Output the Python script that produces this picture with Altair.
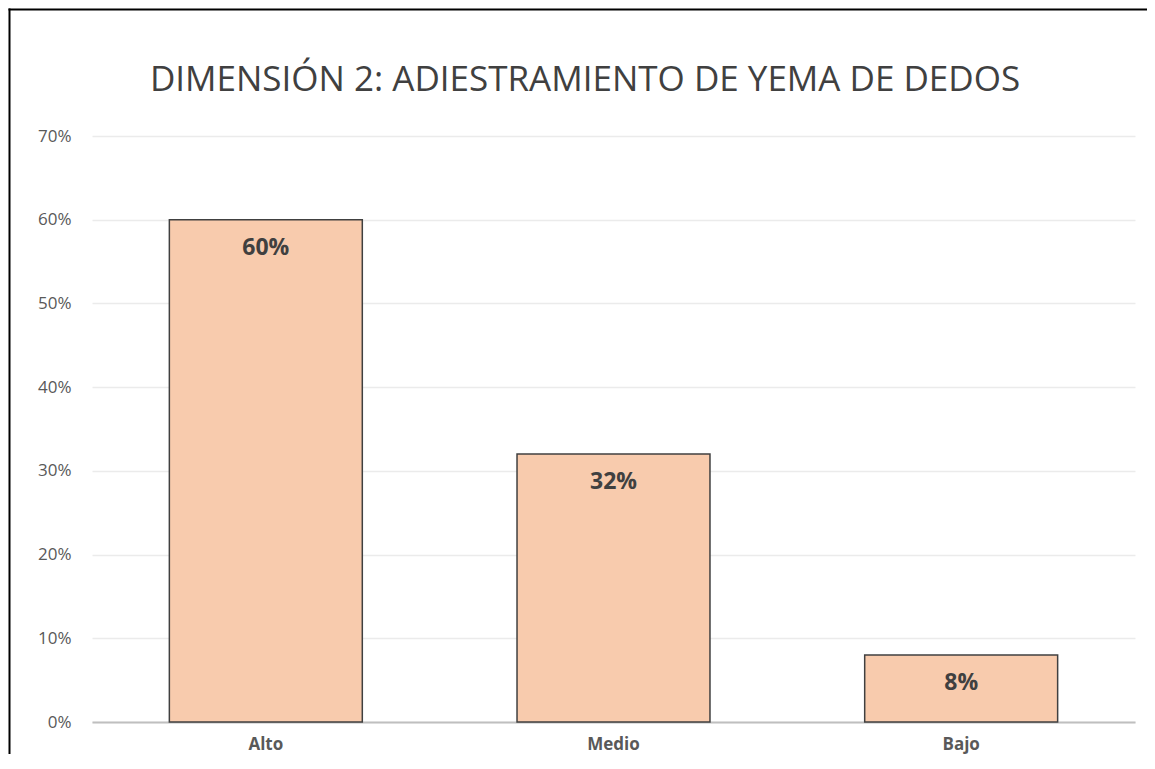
import altair as alt
import pandas as pd

categories = ["Alto", "Medio", "Bajo"]
values = [0.60, 0.32, 0.08]
labels = ["60%", "32%", "8%"]
title_text = "DIMENSIÓN 2: ADIESTRAMIENTO DE YEMA DE DEDOS"

df = pd.DataFrame({"cat": categories, "val": values, "lab": labels})

W, H = 1043, 586
FONT = "Open Sans"

base = alt.Chart(df)

bars = base.mark_bar(color="#F8CBAD", stroke="#404040", strokeWidth=1.5).encode(
    x=alt.X("cat:N", sort=categories, title=None,
            scale=alt.Scale(paddingInner=0.445, paddingOuter=0.2225),
            axis=alt.Axis(labelAngle=0, labelFont=FONT, labelFontSize=17, labelFontWeight="bold",
                          labelColor="#595959", ticks=False, domain=True, domainColor="#BFBFBF",
                          domainWidth=2, labelPadding=14, grid=False)),
    y=alt.Y("val:Q", title=None,
            scale=alt.Scale(domain=[0, 0.7]),
            axis=alt.Axis(values=[0, 0.1, 0.2, 0.3, 0.4, 0.5, 0.6, 0.7], format=".0%",
                          labelFont=FONT, labelFontSize=17, labelColor="#595959",
                          ticks=False, domain=False, labelPadding=21,
                          grid=True, gridColor="#EBEBEB", gridWidth=1.5)),
)

text = base.mark_text(font=FONT, fontSize=23, fontWeight="bold", color="#404040",
                      baseline="middle", dy=28).encode(
    x=alt.X("cat:N", sort=categories),
    y="val:Q",
    text="lab:N",
)

title = alt.Chart(pd.DataFrame({"t": [title_text]})).mark_text(
    font=FONT, fontSize=35, color="#404040", align="center", baseline="middle"
).encode(x=alt.value(493), y=alt.value(-56), text="t:N")

left_border = alt.Chart(pd.DataFrame({"a": [0]})).mark_rect(color="#000000").encode(
    x=alt.value(-83.5), x2=alt.value(-81.5), y=alt.value(-127.5), y2=alt.value(H + 40))
top_border = alt.Chart(pd.DataFrame({"a": [0]})).mark_rect(color="#000000").encode(
    x=alt.value(-83.5), x2=alt.value(W + 20), y=alt.value(-127.5), y2=alt.value(-125.5))

chart = alt.layer(bars, text, title, left_border, top_border).properties(
    width=W, height=H,
    autosize=alt.AutoSizeParams(type="none"),
    padding={"left": 84, "top": 128, "right": 12, "bottom": 32},
).configure_view(strokeWidth=0)

chart.save("out.html", embed_options={"renderer": "svg", "actions": False})
